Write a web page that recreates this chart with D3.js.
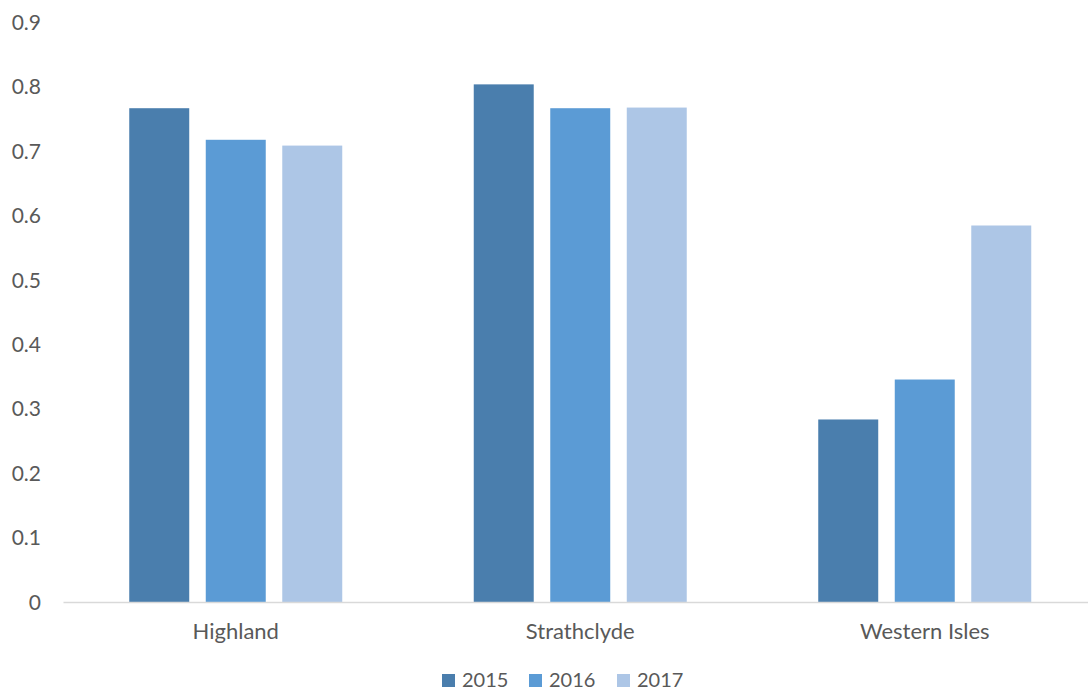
<!DOCTYPE html>
<html><head><meta charset="utf-8">
<script src="https://cdn.jsdelivr.net/npm/d3@7"></script>
<style>body{margin:0;background:#fff;} svg{display:block;font-family:Lato,"Open Sans",sans-serif;}</style>
</head><body><svg id="c" width="1088" height="693"></svg>
<script>
const categories = ["Highland", "Strathclyde", "Western Isles"];
const years = ["2015", "2016", "2017"];
const values2015 = [0.767, 0.804, 0.284];
const values2016 = [0.718, 0.767, 0.346];
const values2017 = [0.709, 0.768, 0.585];
const yTicks = [0, 0.1, 0.2, 0.3, 0.4, 0.5, 0.6, 0.7, 0.8, 0.9];
const colors = ["#4a7ead", "#5b9bd5", "#adc6e6"];

const series = [values2015, values2016, values2017];
const svg = d3.select("#c");
const y = d3.scaleLinear().domain([0, 0.9]).range([602.5, 22.5]);
const x0 = d3.scaleBand().domain(categories).range([63.5, 1097]);
const groupW = 213;
const x1 = d3.scaleBand().domain(years).range([0, groupW]).paddingInner(0.216).paddingOuter(0);

// y tick labels
const yAxis = d3.axisLeft(y).tickValues(yTicks).tickFormat(d => d === 0 ? "0" : d3.format(".1f")(d)).tickSize(0).tickPadding(0);
const ya = svg.append("g").attr("transform", "translate(41,0)").call(yAxis);
ya.select(".domain").remove();
ya.selectAll("text").attr("font-size", 21).attr("fill", "#595959").attr("font-family", "Lato, sans-serif");

// bars
const g = svg.append("g");
categories.forEach((c, i) => {
  const gx = x0(c) + (x0.bandwidth() - groupW) / 2;
  years.forEach((yr, j) => {
    const v = series[j][i];
    g.append("rect")
      .attr("x", gx + x1(yr))
      .attr("y", y(v))
      .attr("width", x1.bandwidth())
      .attr("height", y(0) - y(v))
      .attr("fill", colors[j]);
  });
});

// x axis
const xAxis = d3.axisBottom(x0).tickSize(0).tickPadding(21);
const xa = svg.append("g").attr("transform", `translate(0,${y(0)})`).call(xAxis);
xa.select(".domain").attr("stroke", "#d9d9d9").attr("stroke-width", 1.5).attr("d", "M63.5,0H1088");
xa.selectAll("text").attr("font-size", 22).attr("fill", "#595959").attr("font-family", "Lato, sans-serif");

// legend
const legendX = [442, 529, 617];
const lg = svg.append("g");
years.forEach((yr, j) => {
  lg.append("rect").attr("x", legendX[j]).attr("y", 674).attr("width", 13).attr("height", 13).attr("fill", colors[j]);
  lg.append("text").attr("x", legendX[j] + 20).attr("y", 680).attr("dy", "0.35em")
    .attr("font-size", 20).attr("fill", "#595959").text(yr);
});
</script></body></html>
